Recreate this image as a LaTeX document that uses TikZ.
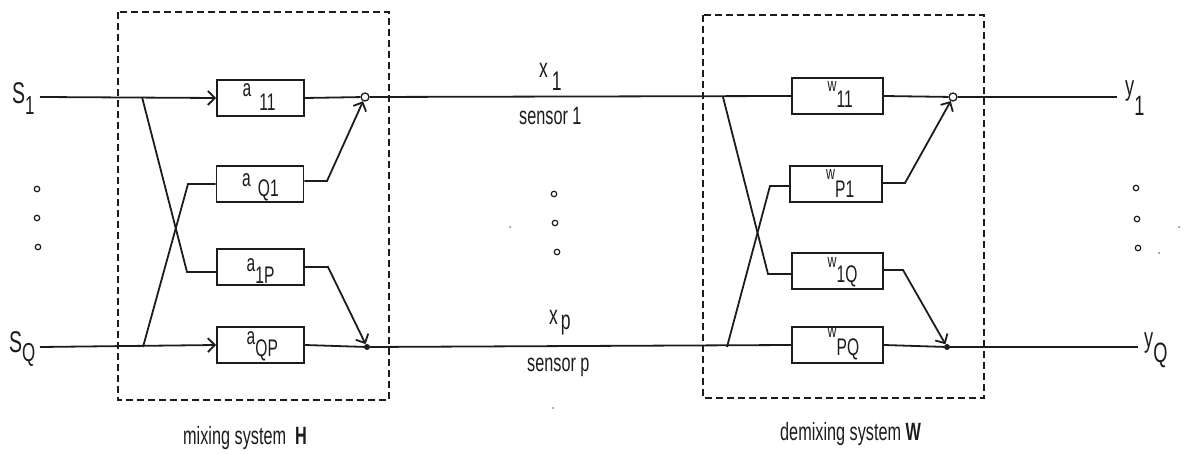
\documentclass[tikz,border=0pt]{standalone}
\usepackage{fontspec}
\setmainfont{Liberation Sans}[FakeStretch=0.65]
\usetikzlibrary{arrows.meta,calc}
\definecolor{ink}{HTML}{1C1C1C}
% symbol with a lowered index
\newcommand{\idx}[3][10pt]{#2\raisebox{-#1}{#3}}
% weight label: small letter w, larger lowered index
\newcommand{\wt}[2][16pt]{{\fontsize{19}{19}\selectfont w}\raisebox{-#1}{#2}}
\begin{document}
\begin{tikzpicture}[x=1pt,y=-1pt,
  wire/.style={draw=ink,line width=1.8pt},
  frame/.style={draw=ink,line width=1.8pt,dash pattern=on 7pt off 4pt},
  gain/.style={draw=ink,line width=1.8pt,minimum width=87pt,minimum height=36pt,inner sep=0pt},
  gtxt/.style={text=ink,inner sep=0pt,anchor=base west,font=\fontsize{24}{24}\selectfont},
  barb/.style={-{Straight Barb[length=7pt,width=14pt]}},
  sumpt/.style={circle,draw=ink,line width=1.3pt,inner sep=0pt,minimum size=8pt},
  sumfill/.style={circle,fill=ink,inner sep=0pt,minimum size=6pt},
  dotc/.style={circle,draw=ink,line width=1.2pt,inner sep=0pt,minimum size=5.5pt},
  speck/.style={circle,fill=ink!60,inner sep=0pt,minimum size=2pt},
  lab/.style={text=ink,font=\fontsize{25}{25}\selectfont,inner sep=0pt,anchor=base west},
  sig/.style={text=ink,font=\fontsize{30}{30}\selectfont,inner sep=0pt,anchor=base west}]
\useasboundingbox (0,0) rectangle (1184,454);

% dashed system frames
\draw[frame] (118,12) rectangle (389,400);
\draw[frame] (703,15) rectangle (984,398);

% gain blocks of the mixing system
\node[gain] (a11) at (260.5,98)  {};
\node[gain] (aQ1) at (260,184)   {};
\node[gain] (a1P) at (260.5,267) {};
\node[gain] (aQP) at (260.5,345) {};
\node[gtxt] (a11t) at ($(a11.center)+(-18,-1)$) {\idx[14pt]{a\hspace{8pt}}{11}};
\node[gtxt] (aQ1t) at ($(aQ1.center)+(-18,3)$)  {\idx[10pt]{a\hspace{7pt}}{Q1}};
\node[gtxt] (a1Pt) at ($(a1P.center)+(-14,5)$)  {\idx[12pt]{a}{1P}};
\node[gtxt] (aQPt) at ($(aQP.center)+(-14,0)$)  {\idx[12pt]{a}{QP}};

% gain blocks of the demixing system
\node[gain,minimum width=91pt] (w11) at (837.5,96)  {};
\node[gain,minimum width=92pt] (wP1) at (836,184)   {};
\node[gain,minimum width=91pt] (w1Q) at (837.5,271) {};
\node[gain,minimum width=91pt] (wPQ) at (837.5,345) {};
\node[gtxt] (w11t) at ($(w11.center)+(-10,-4)$) {\wt{11}};
\node[gtxt] (wP1t) at ($(wP1.center)+(-10,-4)$) {\wt[18pt]{P1}};
\node[gtxt] (w1Qt) at ($(w1Q.center)+(-10,-3)$) {\wt[15pt]{1Q}};
\node[gtxt] (wPQt) at ($(wPQ.center)+(-10,-7)$) {\wt[18pt]{PQ}};

% source and output labels
\node[sig] (s1) at (12,104) {\idx[11pt]{S}{\fontsize{26}{26}\selectfont 1}};
\node[sig] (sQ) at (9,353) {\idx[9pt]{S}{\fontsize{26}{26}\selectfont Q}};
\node[lab,font=\fontsize{28}{28}\selectfont] (y1) at (1125,96) {\idx[20pt]{y}{1}};
\node[lab,font=\fontsize{28}{28}\selectfont] (yQ) at (1144,348) {\idx[15pt]{y}{Q}};

% sensor signals
\node[lab,font=\fontsize{27}{27}\selectfont] (x1) at (539,78) {\idx[13pt]{x\hspace{4pt}}{1}};
\node[lab,font=\fontsize{27}{27}\selectfont] (xp) at (549,325) {\idx[5pt]{x\hspace{3pt}}{p}};
\node[lab] (sen1) at (519,125) {sensor 1};
\node[lab] (senp) at (527,372) {sensor p};

% system captions
\node[lab] (capH) at (183,444) {mixing system\hspace{9pt}\textbf{H}};
\node[lab] (capW) at (780,440) {demixing system \textbf{W}};

% branch points and bends
\coordinate (b1) at (142,97);
\coordinate (b2) at (143,347);
\coordinate (k1) at (187,272);
\coordinate (k2) at (188,184);
\coordinate (o1) at (327,181);
\coordinate (o2) at (328,267);
\coordinate (c1) at (723,97);
\coordinate (c2) at (727,347);
\coordinate (m1) at (768,274);
\coordinate (m2) at (770,186);
\coordinate (p1) at (905,183);
\coordinate (p2) at (903,270);
\coordinate (in1) at (40,97);
\coordinate (in2) at (40,347);
\coordinate (out1) at (1117,97);
\coordinate (out2) at (1138,347);

% summing junctions
\node[sumpt] (sH1) at (365,97) {};
\node[sumfill] (sH2) at (367,347) {};
\node[sumpt] (sW1) at (953,97) {};
\node[sumfill] (sW2) at (947,347) {};

% mixing system wiring
\draw[wire,barb] (in1) -- (a11.west);
\draw[wire,barb] (in2) -- (aQP.west);
\draw[wire] (a11.east) -- (sH1);
\draw[wire] (aQP.east) -- (sH2);
\draw[wire] (b1) -- (k1) -- (k1 -| a1P.west);
\draw[wire] (b2) -- (k2) -- (k2 -| aQ1.west);
\draw[wire,barb] (o1 -| aQ1.east) -- (o1) -- (sH1);
\draw[wire,barb] (o2 -| a1P.east) -- (o2) -- (sH2);

% sensor lines
\draw[wire] (sH1) -- (w11.west);
\draw[wire] (sH2) -- (wPQ.west);

% demixing system wiring
\draw[wire] (c1) -- (m1) -- (m1 -| w1Q.west);
\draw[wire] (c2) -- (m2) -- (m2 -| wP1.west);
\draw[wire] (w11.east) -- (sW1);
\draw[wire] (wPQ.east) -- (sW2);
\draw[wire,barb] (p1 -| wP1.east) -- (p1) -- (sW1);
\draw[wire,barb] (p2 -| w1Q.east) -- (p2) -- (sW2);
\draw[wire] (sW1) -- (out1);
\draw[wire] (sW2) -- (out2);

% ellipsis dots
\node[dotc] (l1) at (37,189) {};
\node[dotc] (l2) at (37,218) {};
\node[dotc] (l3) at (38,247) {};
\node[dotc] (c1d) at (554,194) {};
\node[dotc] (c2d) at (555,223) {};
\node[dotc] (c3d) at (557,252) {};
\node[dotc] (r1) at (1136,188) {};
\node[dotc] (r2) at (1137,219) {};
\node[dotc] (r3) at (1138,248) {};
\node[speck] (sp1) at (510,227) {};
\node[speck] (sp2) at (1179,227) {};
\node[speck] (sp3) at (1159,253) {};
\node[speck] (sp4) at (553,408) {};
\end{tikzpicture}
\end{document}
